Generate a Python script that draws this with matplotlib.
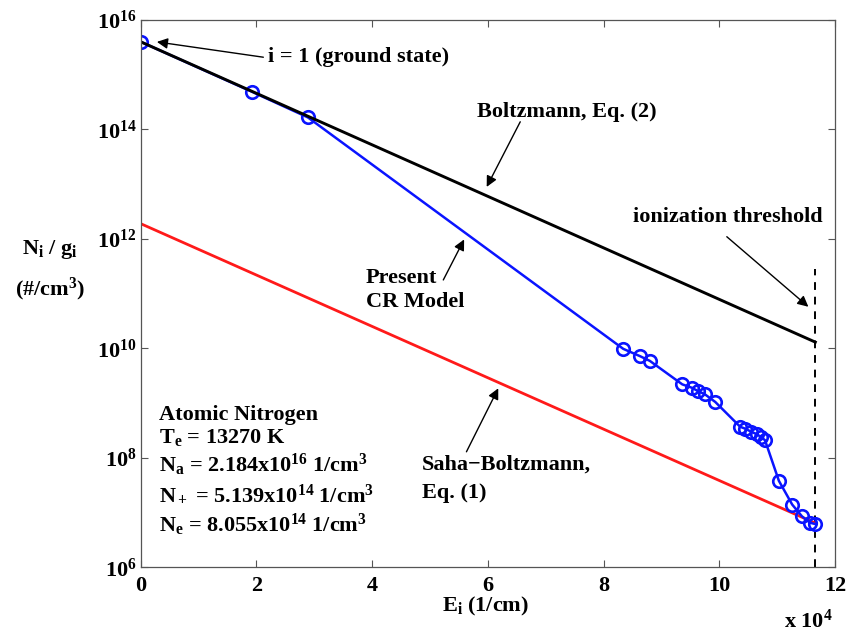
import numpy as np
import matplotlib
matplotlib.use("Agg")
import matplotlib.pyplot as plt
from matplotlib.ticker import FixedLocator, FuncFormatter, NullLocator

plt.rcParams['font.family'] = ['Liberation Serif', 'DejaVu Serif']
plt.rcParams['font.weight'] = 'bold'
plt.rcParams['mathtext.fontset'] = 'custom'
plt.rcParams['mathtext.rm'] = 'Liberation Serif:bold'
plt.rcParams['mathtext.it'] = 'Liberation Serif:bold'
plt.rcParams['mathtext.bf'] = 'Liberation Serif:bold'
plt.rcParams['mathtext.default'] = 'rm'

# energy levels (x 10^4 1/cm) and populations N_i/g_i (#/cm^3), present CR model
e_cr = [0.0, 1.92, 2.89, 8.34, 8.63, 8.80, 9.36, 9.53, 9.63, 9.75, 9.93,
        10.36, 10.45, 10.55, 10.65, 10.72, 10.79, 11.03, 11.26, 11.43, 11.57, 11.65]
n_cr = [4.0e15, 4.9e14, 1.66e14, 9.8e9, 7.2e9, 5.9e9, 2.2e9, 1.9e9, 1.66e9, 1.45e9, 1.05e9,
        3.7e8, 3.4e8, 3.0e8, 2.7e8, 2.4e8, 2.1e8, 3.8e7, 1.4e7, 8.5e6, 6.5e6, 6.2e6]

# Boltzmann and Saha-Boltzmann lines (end points)
e_line = [0.0, 11.66]
n_boltz = [4.0e15, 1.3e10]
n_saha = [1.9e12, 6.4e6]

# ionization threshold
e_ion = 11.66
n_ion_top = 2.8e11

yticks = [1e6, 1e8, 1e10, 1e12, 1e14, 1e16]
xticks = [0, 2, 4, 6, 8, 10, 12]

fig = plt.figure(figsize=(8.46, 6.31), dpi=100)
ax = fig.add_axes([0.1663, 0.101, 0.8207, 0.8673])
ax.set_yscale('log')

ax.plot([e_ion, e_ion], [1e6, n_ion_top], color='k', lw=1.4, dashes=(4, 3.5))
ax.plot(e_line, n_saha, color='#ff1a1a', lw=2.0)
ax.plot(e_cr, n_cr, color='#0a14ff', lw=1.8, marker='o', ms=9, mfc='none',
        mec='#0a14ff', mew=1.9)
ax.plot(e_line, n_boltz, color='k', lw=2.1)

ax.set_xlim(0, 12)
ax.set_ylim(1e6, 1e16)
ax.xaxis.set_major_locator(FixedLocator(xticks))
ax.yaxis.set_major_locator(FixedLocator(yticks))
ax.yaxis.set_minor_locator(NullLocator())
ax.yaxis.set_major_formatter(FuncFormatter(lambda v, p: '$10^{%d}$' % round(np.log10(v))))
ax.tick_params(direction='in', length=5, width=0.8, color='#555555', top=True, right=True,
               labelsize=16)
ax.tick_params(axis='x', pad=6)
ax.tick_params(axis='y', pad=3)
for s in ax.spines.values():
    s.set_color('#555555')
    s.set_linewidth(0.9)

fs = 16
ax.text(0.496, -0.071, '$E_i$ (1/cm)', transform=ax.transAxes, ha='center', va='center', fontsize=fs)
ax.text(0.997, -0.098, 'x $10^4$', transform=ax.transAxes, ha='right', va='center', fontsize=fs)
ax.text(-0.131, 0.58, '$N_i$ / $g_i$', transform=ax.transAxes, ha='center', va='center', fontsize=fs)
ax.text(-0.131, 0.507, '(#/$cm^3$)', transform=ax.transAxes, ha='center', va='center', fontsize=fs)

arrow = dict(arrowstyle='-|>', color='k', lw=1.0, mutation_scale=16, shrinkA=0, shrinkB=0)

ax.text(2.20, 10**15.32, 'i = 1 (ground state)', ha='left', va='center', fontsize=fs)
ax.annotate('', xy=(0.28, 10**15.60), xytext=(2.12, 10**15.32), arrowprops=arrow)

ax.text(5.81, 10**14.32, 'Boltzmann, Eq. (2)', ha='left', va='center', fontsize=fs)
ax.annotate('', xy=(5.98, 10**12.95), xytext=(6.56, 10**14.14), arrowprops=arrow)

ax.text(3.89, 10**11.29, 'Present', ha='left', va='center', fontsize=fs)
ax.text(3.89, 10**10.85, 'CR Model', ha='left', va='center', fontsize=fs)
ax.annotate('', xy=(5.59, 10**11.99), xytext=(5.23, 10**11.25), arrowprops=arrow)

ax.text(4.86, 10**7.87, 'Saha\u2212Boltzmann,', ha='left', va='center', fontsize=fs)
ax.text(4.86, 10**7.36, 'Eq. (1)', ha='left', va='center', fontsize=fs)
ax.annotate('', xy=(6.18, 10**9.27), xytext=(5.63, 10**8.11), arrowprops=arrow)

ax.text(8.51, 10**12.40, 'ionization threshold', ha='left', va='center', fontsize=fs)
ax.annotate('', xy=(11.54, 10**10.76), xytext=(10.13, 10**12.04), arrowprops=arrow)

info = ['Atomic Nitrogen', '$T_e$ = 13270 K', '$N_a$ = 2.184x$10^{16}$ 1/$cm^3$',
        '$N_+$ = 5.139x$10^{14}$ 1/$cm^3$', '$N_e$ = 8.055x$10^{14}$ 1/$cm^3$']
info_y = [8.78, 8.38, 7.87, 7.32, 6.77]
for t, yy in zip(info, info_y):
    ax.text(0.32, 10**yy, t, ha='left', va='center', fontsize=fs)

fig.savefig('out.png', dpi=100)
